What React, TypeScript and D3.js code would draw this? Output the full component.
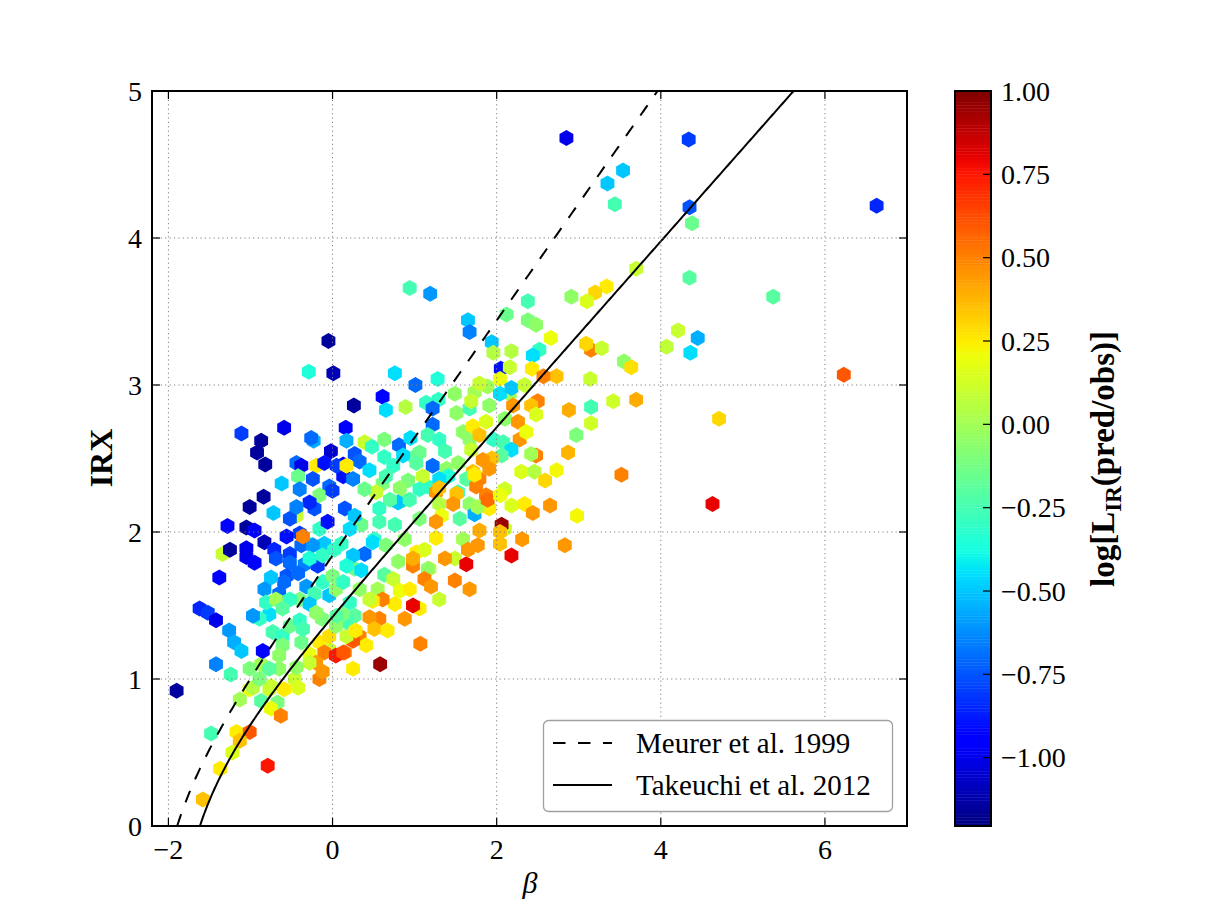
import { useEffect, useRef } from "react";
import * as d3 from "d3";

// [beta, IRX, log(L_IR pred / obs)]
type Galaxy = [number, number, number];

const outliers: Galaxy[] = [
  [2.85, 4.68, -1.0], [4.34, 4.67, -0.8], [3.54, 4.46, -0.5], [3.35, 4.37, -0.5],
  [3.44, 4.23, -0.25], [4.35, 4.21, -0.75], [4.38, 4.1, -0.15], [4.35, 3.73, -0.2],
  [3.7, 3.79, 0.1], [3.34, 3.67, 0.25], [3.2, 3.63, 0.3], [3.1, 3.57, 0.15],
  [2.91, 3.6, -0.05], [2.38, 3.57, -0.25], [0.94, 3.66, -0.25], [1.19, 3.62, -0.6],
  [6.63, 4.22, -0.85], [5.37, 3.6, -0.2],
];

const redSide: Galaxy[] = [
  [4.21, 3.37, 0.1], [4.07, 3.26, 0.08], [4.45, 3.32, -0.55], [4.36, 3.22, -0.45],
  [6.23, 3.07, 0.6], [4.71, 2.77, 0.3], [4.63, 2.19, 0.8], [3.52, 2.39, 0.5],
  [3.15, 3.24, 0.5], [3.09, 3.28, 0.3], [3.28, 3.25, 0.1], [3.55, 3.16, -0.05],
  [3.64, 3.12, 0.28], [2.73, 3.06, 0.35], [3.14, 3.04, 0.1], [2.66, 3.32, 0.2],
  [2.88, 2.83, 0.4], [3.15, 2.85, -0.25], [3.42, 2.89, 0.12], [3.7, 2.9, 0.4],
  [3.15, 2.74, 0.12], [2.97, 2.66, -0.1], [2.87, 2.54, 0.38], [2.73, 2.42, 0.22],
  [2.65, 2.18, 0.45], [2.98, 2.11, 0.22], [2.83, 1.91, 0.45],
];

const upperBand: Galaxy[] = [
  [2.12, 3.48, -0.15], [2.38, 3.44, -0.1], [2.48, 3.41, -0.05], [1.65, 3.44, -0.5],
  [1.67, 3.36, -0.65], [1.94, 3.29, -0.5], [2.18, 3.23, 0.05], [1.96, 3.22, 0.05],
  [2.52, 3.24, -0.3], [2.44, 3.2, -0.45], [2.05, 3.11, -0.9], [2.16, 3.12, 0.1],
  [2.43, 3.11, 0.25], [2.57, 3.06, 0.5], [0.76, 3.08, -0.45], [1.01, 3.0, -0.7],
  [1.28, 3.04, -0.35], [0.61, 2.92, -0.95], [0.26, 2.86, -1.15], [0.65, 2.83, -0.45],
  [0.89, 2.85, 0.05], [1.14, 2.88, -0.3], [1.29, 2.9, -0.3], [1.22, 2.84, -0.7],
  [1.22, 2.73, -0.7], [1.51, 2.81, -0.05], [1.73, 2.95, 0.0], [1.89, 2.99, 0.0],
  [1.49, 2.94, -0.05], [1.67, 2.84, -0.25], [1.79, 3.01, 0.1], [2.04, 3.04, 0.2],
  [2.1, 2.77, -0.05], [1.67, 2.63, -0.05], [2.28, 2.63, 0.45], [2.16, 2.94, 0.0],
  [2.04, 2.94, -0.45], [2.18, 2.98, -0.5], [2.34, 3.0, 0.1], [1.69, 2.89, 0.1],
  [1.91, 2.86, -0.05], [2.2, 2.86, 0.45], [2.5, 2.89, 0.5], [2.42, 2.86, 0.35],
  [2.48, 2.8, 0.15], [2.26, 2.75, 0.45], [2.36, 2.68, 0.2], [0.16, 2.71, -0.95],
  [0.17, 2.62, -0.55], [0.39, 2.61, 0.1], [0.27, 2.53, -0.75], [0.33, 2.48, -0.7],
  [0.13, 2.46, -1.0], [0.13, 2.38, -0.9], [0.25, 2.36, -0.65], [0.45, 2.42, -0.45],
  [0.48, 2.58, -0.3], [0.63, 2.63, -0.1], [1.0, 2.51, -0.2], [1.39, 2.43, -0.05],
  [1.16, 2.31, -0.3], [0.88, 2.22, 0.0],
  [0.63, 2.51, -0.3], [0.81, 2.59, -0.7], [0.95, 2.64, -0.45], [0.86, 2.52, -0.45],
  [0.74, 2.45, -0.3], [1.06, 2.54, -0.15], [1.22, 2.45, -0.7], [1.16, 2.66, -0.25],
  [1.3, 2.63, -0.3], [1.37, 2.55, -0.25], [1.41, 2.38, -0.35], [1.3, 2.36, -0.45],
  [1.53, 2.47, -0.05], [1.59, 2.68, -0.05], [1.69, 2.56, 0.1], [1.71, 2.72, 0.25],
  [1.87, 2.75, 0.15], [1.79, 2.66, 0.35], [1.96, 2.63, -0.3], [2.08, 2.61, -0.25],
  [2.18, 2.56, -0.45], [2.06, 2.52, -0.2], [1.94, 2.5, 0.35], [1.83, 2.49, 0.45],
  [2.48, 2.52, 0.5], [2.42, 2.53, 0.0], [2.3, 2.41, 0.15], [2.46, 2.41, 0.05],
  [2.59, 2.35, 0.3], [2.1, 2.29, 0.12], [1.91, 2.43, 0.45], [1.79, 2.36, 0.5],
  [1.71, 2.41, 0.35], [1.63, 2.36, -0.2], [1.53, 2.27, -0.25], [1.75, 2.31, 0.5],
  [1.87, 2.25, 0.5], [1.02, 2.47, -0.2], [1.1, 2.38, 0.1], [0.92, 2.35, -0.1],
  [1.06, 2.29, -0.3], [0.82, 2.3, -0.05], [0.61, 2.33, -0.1], [0.65, 2.38, -0.25],
  [0.53, 2.27, 0.1], [0.39, 2.29, -0.15], [1.26, 2.27, 0.45], [1.3, 2.3, 0.35],
];

const middleBand: Galaxy[] = [
  [0.57, 2.16, -0.3], [0.35, 2.05, -0.15], [0.76, 2.05, -0.25], [1.06, 2.09, -0.1],
  [1.3, 2.19, 0.05], [1.55, 2.09, -0.2], [0.51, 1.95, -0.3], [0.88, 1.95, -0.05],
  [0.21, 2.02, -0.45], [0.11, 1.92, -0.3], [0.27, 1.75, -0.15],
  [1.73, 2.39, 0.25], [1.91, 2.16, 0.25], [2.1, 2.02, 0.1], [1.67, 2.19, -0.05],
  [2.34, 2.19, 0.25],
  [0.15, 2.16, -0.75], [0.27, 2.11, -0.5], [0.39, 1.85, -0.7], [0.25, 1.84, -0.5],
  [0.35, 1.74, -0.45], [0.49, 1.93, -0.45], [0.8, 2.2, -0.5], [0.94, 2.22, -0.25],
  [0.7, 2.22, -0.2], [0.57, 2.07, -0.25], [0.65, 1.91, -0.1], [0.8, 1.8, -0.05],
  [0.63, 1.71, -0.2], [0.55, 1.61, 0.0], [0.74, 1.68, 0.1], [0.82, 1.6, 0.2],
  [0.76, 1.51, 0.25], [1.06, 1.48, 0.25], [1.3, 1.54, 0.1], [0.88, 1.41, 0.45],
  [0.57, 1.41, 0.5], [1.18, 1.75, 0.1], [1.49, 1.82, 0.1], [1.67, 1.61, 0.45],
  [0.94, 1.61, 0.25], [0.98, 1.5, 0.8], [1.02, 1.86, 0.25], [0.98, 1.77, 0.5],
  [1.16, 1.75, -0.05], [1.12, 1.88, 0.15], [0.98, 1.82, 0.4], [1.26, 1.96, 0.25],
  [1.33, 2.11, 0.2], [1.26, 2.07, 0.45], [1.51, 2.26, 0.35], [1.47, 2.19, 0.45],
  [1.37, 1.82, 0.45], [1.12, 1.68, 0.5], [1.2, 1.63, 0.45], [1.49, 1.67, 0.5],
  [1.63, 1.78, 0.8], [1.59, 1.95, 0.0], [1.65, 1.88, 0.45], [1.77, 1.91, 0.45],
  [1.73, 2.12, -0.55], [1.77, 2.17, 0.0], [1.79, 2.01, 0.4], [1.89, 2.22, 0.55],
  [2.06, 2.05, 0.95], [2.04, 2.0, 0.35], [2.04, 1.92, 0.35], [2.18, 1.84, 0.8],
  [2.31, 1.95, 0.45], [2.18, 2.18, 0.15], [2.04, 2.25, 0.2], [2.44, 2.13, 0.45],
  [0.61, 1.54, 0.5], [0.49, 1.53, 0.25], [0.27, 1.43, -0.2], [0.45, 1.42, 0.45],
  [0.51, 1.34, 0.35], [0.67, 1.33, 0.25], [0.33, 1.29, 0.5], [0.41, 1.23, 0.25],
  [0.25, 1.26, 0.6], [0.15, 1.18, 0.5], [0.25, 1.07, 0.25], [0.58, 1.1, 0.95],
  [1.07, 1.24, 0.5], [0.17, 1.29, 0.1], [0.17, 1.39, -0.25], [0.21, 1.52, -0.3],
];

const blueSide: Galaxy[] = [
  [-0.05, 3.3, -1.15], [-0.29, 3.09, -0.35], [0.01, 3.08, -1.1], [-1.11, 2.67, -0.8],
  [-0.59, 2.71, -1.0], [-0.87, 2.62, -1.15], [-0.92, 2.54, -1.15], [-0.82, 2.46, -1.15],
  [-0.23, 2.62, -0.55], [-0.26, 2.64, -0.7], [-0.02, 2.55, -1.05], [-0.44, 2.47, -0.7],
  [-0.38, 2.45, -1.0], [-0.2, 2.45, 0.25], [-0.1, 2.47, -0.9], [-0.24, 2.36, -0.75],
  [-0.42, 2.38, -0.15], [0.05, 2.45, -0.8], [0.17, 2.45, 0.25], [-0.04, 2.31, -0.7],
  [-0.16, 2.25, -0.1], [-0.44, 2.11, 0.1],
  [-0.52, 2.09, -0.75], [-0.4, 1.99, -0.8], [-0.22, 2.16, -0.75], [-0.1, 1.92, -0.5],
  [-0.34, 1.78, -0.65], [-0.52, 1.85, -0.8], [-0.65, 1.58, -0.7], [-0.77, 1.44, -0.45],
  [-0.4, 2.29, -0.65], [-0.62, 2.33, -0.5], [-0.16, 2.02, -0.3], [-0.3, 1.92, -0.35],
  [-0.84, 2.24, -1.15], [-1.01, 2.17, -1.15], [-0.72, 2.13, -0.5], [-1.28, 2.04, -0.95],
  [-1.05, 2.03, -1.15], [-0.95, 2.01, -0.95], [-1.34, 1.85, 0.1], [-1.25, 1.88, -1.15],
  [-1.05, 1.89, -1.0], [-1.05, 1.83, -1.0], [-0.95, 1.79, -0.95], [-0.83, 1.93, -1.1],
  [-0.71, 1.88, -0.85], [-0.56, 1.97, -0.9], [-0.69, 1.82, -0.75], [-0.52, 1.79, -0.7],
  [-0.56, 1.7, -0.75], [-0.59, 1.66, -0.7], [-0.75, 1.69, -0.5], [-0.83, 1.61, -0.6],
  [-1.38, 1.69, -0.95], [-0.42, 1.72, -0.7], [-0.32, 1.63, -0.6], [-0.18, 1.77, -0.8],
  [-0.38, 1.91, -0.7], [-0.24, 1.91, -0.6], [-0.36, 1.97, 0.5], [-0.28, 2.2, -0.85],
  [-0.44, 2.17, -0.65], [-0.06, 2.07, -0.9], [0.0, 2.28, -0.8], [-0.12, 1.84, -0.3],
  [0.02, 1.88, -0.3], [-0.28, 1.82, -0.35],
];

const lowerBand: Galaxy[] = [
  [-0.4, 1.54, -0.1], [-0.22, 1.58, -0.25], [-0.52, 1.54, -0.3], [-0.13, 1.41, -0.1],
  [0.33, 1.61, -0.05], [0.45, 1.54, 0.1], [0.28, 1.33, 0.25], [0.12, 1.44, -0.1],
  [-0.04, 1.2, 0.1], [-0.28, 1.17, 0.2], [-0.46, 1.0, 0.1], [-0.16, 1.0, 0.5],
  [-0.65, 1.07, -0.05], [-0.87, 1.1, 0.0], [-1.01, 0.93, 0.2], [-1.13, 0.86, 0.0],
  [-0.77, 0.93, 0.1],
  [-0.81, 1.52, -0.3], [-0.89, 1.41, -0.3], [-0.97, 1.43, -0.6], [-1.62, 1.48, -0.85],
  [-1.52, 1.45, -0.8], [-1.42, 1.4, -1.0], [-1.26, 1.33, -0.6], [-1.2, 1.25, -0.55],
  [-1.11, 1.19, -0.5], [-1.42, 1.1, -0.65], [-1.24, 1.03, -0.25], [-0.85, 1.19, -0.95],
  [-0.69, 1.54, 0.0], [-0.61, 1.48, -0.2], [-0.73, 1.32, -0.25], [-0.61, 1.29, -0.3],
  [-0.52, 1.36, -0.15], [-0.4, 1.4, -0.3], [-0.28, 1.51, -0.5], [-0.2, 1.45, -0.05],
  [-0.38, 1.25, -0.15], [-0.61, 1.23, -0.1], [-0.65, 1.16, -0.05], [-0.16, 1.25, 0.25],
  [-0.04, 1.29, 0.28], [-0.1, 1.18, 0.5], [0.04, 1.16, 0.75], [0.13, 1.18, 0.6],
  [-0.2, 1.11, 0.45], [-0.12, 1.05, 0.45], [-0.28, 1.11, 0.1], [-0.44, 1.08, -0.05],
  [-1.01, 1.07, -0.1], [-0.77, 1.07, -0.2], [-0.36, 1.34, -0.25], [0.04, 1.36, -0.05],
  [0.05, 1.43, -0.2], [-0.04, 1.57, -0.5], [-0.12, 1.66, -0.3], [0.0, 1.7, -0.1],
  [0.04, 1.61, -0.05], [0.13, 1.66, -0.3], [0.17, 1.77, -0.35],
  [-1.9, 0.92, -1.15], [-0.97, 0.94, 0.05], [-0.87, 0.85, -0.2], [-0.67, 0.84, -0.1],
  [-0.75, 0.8, 0.2], [-0.63, 0.75, 0.5], [-0.75, 0.95, 0.1], [-0.59, 0.93, 0.25],
  [-0.42, 0.94, 0.15], [-0.89, 1.0, -0.1], [-1.48, 0.63, -0.25], [-1.17, 0.64, 0.25],
  [-1.01, 0.64, 0.6], [-1.13, 0.58, 0.35], [-1.22, 0.5, 0.15], [-1.37, 0.39, 0.25],
  [-0.79, 0.41, 0.75], [-1.58, 0.18, 0.35],
];

const galaxies: Galaxy[] = [
  ...outliers, ...redSide, ...upperBand, ...middleBand, ...blueSide, ...lowerBand,
];

const xTicks = [-2, 0, 2, 4, 6];
const yTicks = [0, 1, 2, 3, 4, 5];
const colorTicks = [-1, -0.75, -0.5, -0.25, 0, 0.25, 0.5, 0.75, 1];
const colorDomain: [number, number] = [-1.205, 1.0];

// Attenuation laws: A_FUV = a + b*beta, IRX = log10((10^(0.4 A) - 1) * k)
const relations = [
  { label: "Meurer et al. 1999", a: 4.43, b: 1.99, k: 1.19, dash: "12.5,12.5" },
  { label: "Takeuchi et al. 2012", a: 3.06, b: 1.58, k: 1 / 0.595, dash: null },
];

// matplotlib "jet" segment data
const jetR = d3.scaleLinear<number>().domain([0, 0.35, 0.66, 0.89, 1]).range([0, 0, 1, 1, 0.5]).clamp(true);
const jetG = d3.scaleLinear<number>().domain([0, 0.125, 0.375, 0.64, 0.91, 1]).range([0, 0, 1, 1, 0, 0]).clamp(true);
const jetB = d3.scaleLinear<number>().domain([0, 0.11, 0.34, 0.65, 1]).range([0.5, 1, 1, 0, 0]).clamp(true);
const jet = (t: number) =>
  d3.rgb(jetR(t) * 255, jetG(t) * 255, jetB(t) * 255).formatHex();

const FONT = '"Liberation Serif", "Times New Roman", serif';

const App = () => {
  const ref = useRef<SVGSVGElement>(null);

  useEffect(() => {
    if (!ref.current) return;
    const svg = d3.select(ref.current);
    svg.selectAll("*").remove();

    const left = 152;
    const right = 907;
    const top = 91;
    const bottom = 826;

    const x = d3.scaleLinear().domain([-2.2, 7]).range([left, right]);
    const y = d3.scaleLinear().domain([0, 5]).range([bottom, top]);
    const norm = d3.scaleLinear().domain(colorDomain).range([0, 1]);
    const color = (v: number) => jet(norm(v));

    svg
      .append("defs")
      .append("clipPath")
      .attr("id", "plot-clip")
      .append("rect")
      .attr("x", left)
      .attr("y", top)
      .attr("width", right - left)
      .attr("height", bottom - top);

    const plot = svg.append("g").attr("clip-path", "url(#plot-clip)");

    // pointy-top hexagon markers
    const r = 8;
    const hex = d3
      .range(6)
      .map((i) => {
        const a = ((-90 + 60 * i) * Math.PI) / 180;
        return `${(r * Math.cos(a)).toFixed(2)},${(r * Math.sin(a)).toFixed(2)}`;
      })
      .join("L");

    plot
      .append("g")
      .selectAll("path")
      .data(galaxies)
      .join("path")
      .attr("d", `M${hex}Z`)
      .attr("transform", (d) => `translate(${x(d[0])},${y(d[1])})`)
      .attr("fill", (d) => color(d[2]));

    // model curves, sampled along IRX
    const irxSamples = d3.range(0, 5.4, 0.01);
    relations.forEach((rel) => {
      const path = d3
        .line<number>()
        .x((irx) => {
          const A = 2.5 * Math.log10(1 + Math.pow(10, irx) / rel.k);
          return x((A - rel.a) / rel.b);
        })
        .y((irx) => y(irx));
      plot
        .append("path")
        .attr("d", path(irxSamples))
        .attr("fill", "none")
        .attr("stroke", "#000")
        .attr("stroke-width", 2)
        .attr("stroke-dasharray", rel.dash);
    });

    // dotted grid
    const grid = svg
      .append("g")
      .attr("stroke", "#808080")
      .attr("stroke-width", 1)
      .attr("stroke-dasharray", "1.2,3.2");
    xTicks.forEach((t) =>
      grid.append("line").attr("x1", x(t)).attr("x2", x(t)).attr("y1", top).attr("y2", bottom),
    );
    yTicks.forEach((t) =>
      grid.append("line").attr("x1", left).attr("x2", right).attr("y1", y(t)).attr("y2", y(t)),
    );

    // legend
    const legend = svg.append("g");
    legend
      .append("rect")
      .attr("x", 543.5)
      .attr("y", 720.5)
      .attr("width", 349)
      .attr("height", 91)
      .attr("rx", 5)
      .attr("fill", "#fff")
      .attr("stroke", "#a0a0a0")
      .attr("stroke-width", 1.3);
    relations.forEach((rel, i) => {
      const ly = 743 + i * 42;
      legend
        .append("line")
        .attr("x1", 553)
        .attr("x2", 612)
        .attr("y1", ly)
        .attr("y2", ly)
        .attr("stroke", "#000")
        .attr("stroke-width", 2)
        .attr("stroke-dasharray", rel.dash);
      legend
        .append("text")
        .attr("x", 636)
        .attr("y", ly)
        .attr("dy", "0.35em")
        .attr("font-family", FONT)
        .attr("font-size", 29)
        .text(rel.label);
    });

    // frame and inward ticks
    const axes = svg.append("g").attr("stroke", "#000");
    axes
      .append("rect")
      .attr("x", left)
      .attr("y", top)
      .attr("width", right - left)
      .attr("height", bottom - top)
      .attr("fill", "none")
      .attr("stroke-width", 2);
    xTicks.forEach((t) => {
      axes.append("line").attr("x1", x(t)).attr("x2", x(t)).attr("y1", bottom).attr("y2", bottom - 8).attr("stroke-width", 1.2);
      axes.append("line").attr("x1", x(t)).attr("x2", x(t)).attr("y1", top).attr("y2", top + 8).attr("stroke-width", 1.2);
    });
    yTicks.forEach((t) => {
      axes.append("line").attr("x1", left).attr("x2", left + 8).attr("y1", y(t)).attr("y2", y(t)).attr("stroke-width", 1.2);
      axes.append("line").attr("x1", right).attr("x2", right - 8).attr("y1", y(t)).attr("y2", y(t)).attr("stroke-width", 1.2);
    });

    const labels = svg.append("g").attr("font-family", FONT).attr("font-size", 28).attr("fill", "#000");
    const fmtInt = d3.format("d");
    xTicks.forEach((t) =>
      labels
        .append("text")
        .attr("x", x(t))
        .attr("y", bottom + 33)
        .attr("text-anchor", "middle")
        .text(fmtInt(t)),
    );
    yTicks.forEach((t) =>
      labels
        .append("text")
        .attr("x", left - 10)
        .attr("y", y(t))
        .attr("dy", "0.35em")
        .attr("text-anchor", "end")
        .text(fmtInt(t)),
    );

    labels
      .append("text")
      .attr("x", 530)
      .attr("y", 893)
      .attr("text-anchor", "middle")
      .attr("font-style", "italic")
      .attr("font-size", 30)
      .text("β");

    labels
      .append("text")
      .attr("transform", `translate(112,458) rotate(-90)`)
      .attr("text-anchor", "middle")
      .attr("font-weight", "bold")
      .attr("font-size", 32)
      .text("IRX");

    // colorbar
    const cbLeft = 955;
    const cbRight = 991;
    const c = d3.scaleLinear().domain(colorDomain).range([bottom, top]);
    const steps = 256;
    const bar = svg.append("g");
    d3.range(steps).forEach((i) => {
      const v0 = colorDomain[0] + ((colorDomain[1] - colorDomain[0]) * i) / steps;
      const v1 = colorDomain[0] + ((colorDomain[1] - colorDomain[0]) * (i + 1)) / steps;
      bar
        .append("rect")
        .attr("x", cbLeft)
        .attr("y", c(v1))
        .attr("width", cbRight - cbLeft)
        .attr("height", c(v0) - c(v1) + 0.4)
        .attr("fill", color((v0 + v1) / 2));
    });
    bar
      .append("rect")
      .attr("x", cbLeft)
      .attr("y", top)
      .attr("width", cbRight - cbLeft)
      .attr("height", bottom - top)
      .attr("fill", "none")
      .attr("stroke", "#000")
      .attr("stroke-width", 2);

    const fmt2 = d3.format(".2f");
    colorTicks.forEach((t) => {
      bar
        .append("line")
        .attr("x1", cbRight)
        .attr("x2", cbRight - 8)
        .attr("y1", c(t))
        .attr("y2", c(t))
        .attr("stroke", "#000")
        .attr("stroke-width", 1.2);
      labels
        .append("text")
        .attr("x", cbRight + 10)
        .attr("y", c(t))
        .attr("dy", "0.35em")
        .text(fmt2(t));
    });

    const cbLabel = labels
      .append("text")
      .attr("transform", `translate(1114,459) rotate(-90)`)
      .attr("text-anchor", "middle")
      .attr("font-weight", "bold")
      .attr("font-size", 33);
    cbLabel.append("tspan").text("log[L");
    cbLabel.append("tspan").attr("dy", 7).attr("font-size", 23).text("IR");
    cbLabel.append("tspan").attr("dy", -7).text("(pred/obs)]");
  }, []);

  return (
    <svg
      ref={ref}
      width={1219}
      height={919}
      style={{ position: "absolute", left: 0, top: 0, background: "#fff" }}
    />
  );
};

export default App;
